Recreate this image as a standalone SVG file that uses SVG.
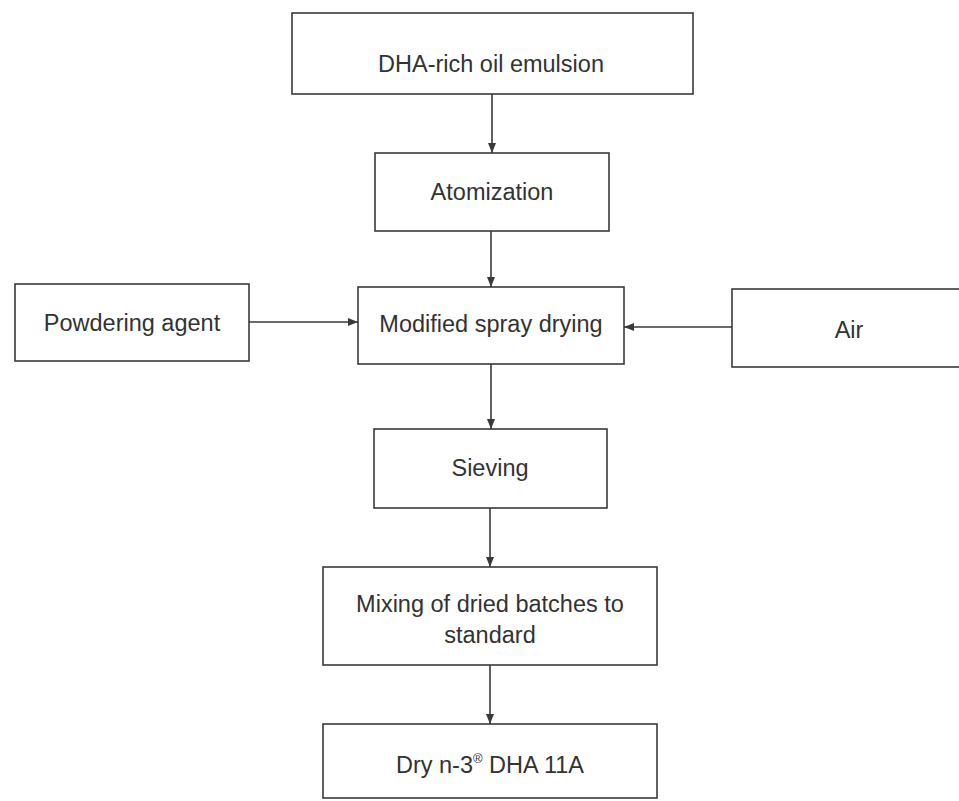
<svg xmlns="http://www.w3.org/2000/svg" width="959" height="801" viewBox="0 0 959 801">
<defs>
<style>
.box{fill:none;stroke:#3a3a3a;stroke-width:1.6}
.lbl{font-family:"Liberation Sans",Arial,sans-serif;font-size:23.5px;fill:#333;text-anchor:middle}
.conn{stroke:#3a3a3a;stroke-width:1.6;fill:none}
</style>
<marker id="ah" viewBox="0 0 10 10" refX="10" refY="5" markerWidth="10" markerHeight="10" markerUnits="userSpaceOnUse" orient="auto">
<path d="M0,1 L10,5 L0,9 Z" fill="#3a3a3a"/>
</marker>
</defs>
<rect width="959" height="801" fill="#ffffff"/>
<g id="n1"><rect class="box" x="292" y="13" width="401" height="81"/><text class="lbl" x="491" y="72">DHA-rich oil emulsion</text></g>
<g id="n2"><rect class="box" x="375" y="153" width="234" height="78"/><text class="lbl" x="492" y="200">Atomization</text></g>
<g id="n3"><rect class="box" x="15" y="284" width="234" height="77"/><text class="lbl" x="132" y="331">Powdering agent</text></g>
<g id="n4"><rect class="box" x="358" y="287" width="266" height="77"/><text class="lbl" x="491" y="332">Modified spray drying</text></g>
<g id="n5"><rect class="box" x="732" y="289" width="240" height="78"/><text class="lbl" x="849" y="338">Air</text></g>
<g id="n6"><rect class="box" x="374" y="429" width="233" height="79"/><text class="lbl" x="490" y="476">Sieving</text></g>
<g id="n7"><rect class="box" x="323" y="567" width="334" height="98"/><text class="lbl" x="490" y="612">Mixing of dried batches to</text><text class="lbl" x="490" y="643">standard</text></g>
<g id="n8"><rect class="box" x="323" y="724" width="334" height="74"/><text class="lbl" x="490" y="773">Dry n-3<tspan font-size="13" dy="-10">®</tspan><tspan dy="10"> DHA 11A</tspan></text></g>
<g id="connectors">
<line class="conn" x1="492" y1="94" x2="492" y2="153" marker-end="url(#ah)"/>
<line class="conn" x1="491" y1="231" x2="491" y2="287" marker-end="url(#ah)"/>
<line class="conn" x1="249" y1="322" x2="358" y2="322" marker-end="url(#ah)"/>
<line class="conn" x1="732" y1="327" x2="624" y2="327" marker-end="url(#ah)"/>
<line class="conn" x1="491" y1="364" x2="491" y2="429" marker-end="url(#ah)"/>
<line class="conn" x1="490" y1="508" x2="490" y2="567" marker-end="url(#ah)"/>
<line class="conn" x1="490" y1="665" x2="490" y2="724" marker-end="url(#ah)"/>
</g>
</svg>
